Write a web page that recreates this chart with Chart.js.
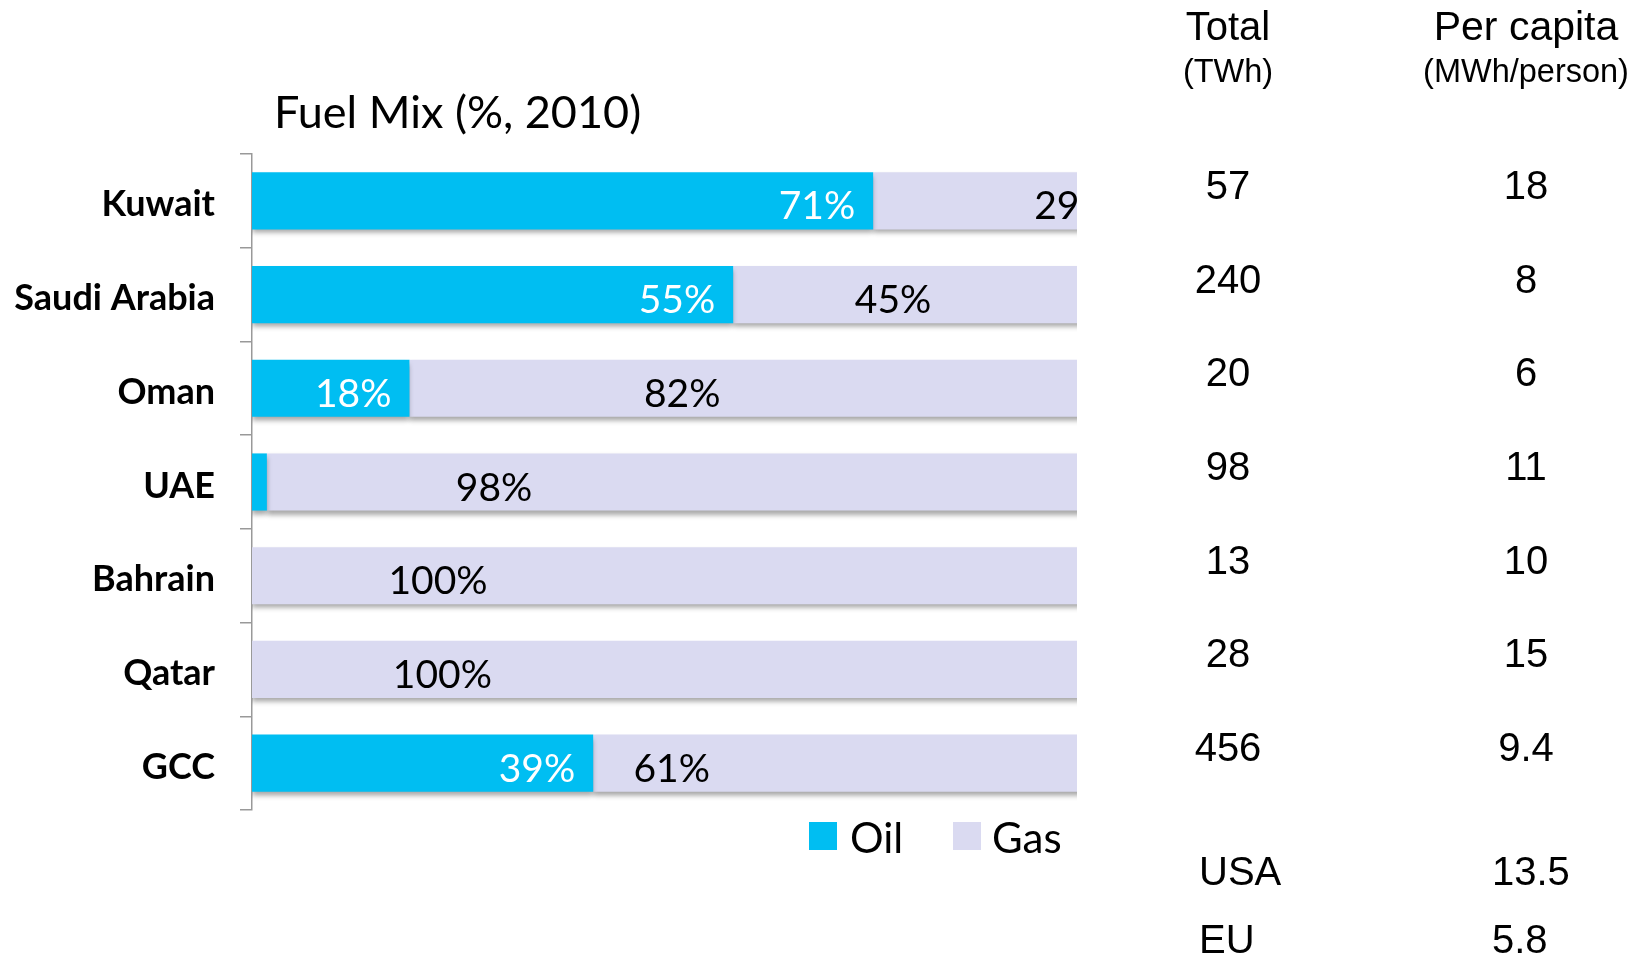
<!DOCTYPE html>
<html><head><meta charset="utf-8">
<script src="https://cdn.jsdelivr.net/npm/chart.js@4.4.1/dist/chart.umd.min.js"></script>
<style>html,body{margin:0;padding:0;background:#fff;} #wrap{width:1636px;height:960px;position:relative;} canvas{display:block;}</style>
</head><body><div id="wrap"><canvas id="c" width="1636" height="960"></canvas></div>
<script>
// ---- data ----
const countries = ['Kuwait', 'Saudi Arabia', 'Oman', 'UAE', 'Bahrain', 'Qatar', 'GCC'];
const oilShare = [71, 55, 18, 1.7, 0, 0, 39];
const gasShare = [29, 45, 82, 98, 100, 100, 61];
const oilLabels = ['71%', '55%', '18%', '', '', '', '39%'];
const gasLabels = ['29%', '45%', '82%', '98%', '100%', '100%', '61%'];
const totalTWh = ['57', '240', '20', '98', '13', '28', '456'];
const perCapita = ['18', '8', '6', '11', '10', '15', '9.4'];
const benchmarkNames = ['USA', 'EU'];
const benchmarkPerCapita = ['13.5', '5.8'];
const seriesNames = ['Oil', 'Gas'];
const chartTitle = 'Fuel Mix (%, 2010)';
const tableHeaders = [['Total', '(TWh)'], ['Per capita', '(MWh/person)']];
// value-axis end (bars overflow and are clipped, as in the original)
const axisMax = 94.3;
// label anchors (in % units on the value axis) for the gas labels, as placed in the original
const gasLabelAnchor = [89.4, 68.9, 44.8, 23.3, 15.6, 16.1, 43.6];

// ---- style ----
const OIL = 'rgb(0,190,242)';
const GAS = 'rgb(218,218,241)';
const CAL = 'Lato, "Open Sans", sans-serif';
const ARIAL = '"Liberation Sans", Arial, sans-serif';

const shadowPlugin = {
  id: 'barShadow',
  beforeDatasetsDraw(chart) {
    const ctx = chart.ctx;
    ctx.save();
    ctx.shadowColor = 'rgba(0,0,0,0.35)';
    ctx.shadowBlur = 5;
    ctx.shadowOffsetX = 0;
    ctx.shadowOffsetY = 4;
  },
  afterDatasetsDraw(chart) { chart.ctx.restore(); }
};

const annotPlugin = {
  id: 'annot',
  afterDraw(chart) {
    const ctx = chart.ctx;
    const xs = chart.scales.x, ys = chart.scales.y, ca = chart.chartArea;
    ctx.save();
    // title
    ctx.fillStyle = '#000';
    ctx.font = '45px ' + CAL;
    ctx.textAlign = 'left';
    ctx.textBaseline = 'middle';
    ctx.fillText(chartTitle, 274, 113);

    // oil labels
    ctx.font = '39px ' + CAL;
    countries.forEach((c, i) => {
      const y = ys.getPixelForValue(i) + 6;
      if (oilLabels[i]) {
        ctx.fillStyle = '#fff';
        ctx.textAlign = 'right';
        ctx.fillText(oilLabels[i], xs.getPixelForValue(oilShare[i]) - 18, y);
      }
    });
    // gas labels (clipped at chart area)
    ctx.save();
    ctx.beginPath();
    ctx.rect(ca.left, ca.top, ca.right - ca.left, ca.bottom - ca.top);
    ctx.clip();
    countries.forEach((c, i) => {
      const y = ys.getPixelForValue(i) + 6;
      if (gasLabels[i]) {
        ctx.fillStyle = '#000';
        ctx.textAlign = 'left';
        ctx.fillText(gasLabels[i], xs.getPixelForValue(gasLabelAnchor[i]), y);
      }
    });
    ctx.restore();

    // legend
    const ds = chart.data.datasets;
    const legendItems = [{x: 809, tx: 850}, {x: 953, tx: 992}];
    ctx.font = '42px ' + CAL;
    ctx.textAlign = 'left';
    ds.forEach((d, k) => {
      ctx.fillStyle = d.backgroundColor;
      ctx.fillRect(legendItems[k].x, 822, 28, 28);
      ctx.fillStyle = '#000';
      ctx.fillText(d.label, legendItems[k].tx, 839);
    });

    // right table
    const colX = [1228, 1526];
    ctx.textAlign = 'center';
    ctx.fillStyle = '#000';
    tableHeaders.forEach((h, k) => {
      ctx.font = (k ? '41px ' : '40px ') + ARIAL;
      ctx.fillText(h[0], colX[k], 29);
      ctx.font = '32.5px ' + ARIAL;
      ctx.fillText(h[1], colX[k], 73);
    });
    ctx.font = '40px ' + ARIAL;
    countries.forEach((c, i) => {
      const y = ys.getPixelForValue(i) - 13;
      ctx.fillText(totalTWh[i], colX[0], y);
      ctx.fillText(perCapita[i], colX[1], y);
    });
    const benchY = [874, 942];
    ctx.textAlign = 'left';
    benchmarkNames.forEach((n, k) => {
      ctx.fillText(n, 1199, benchY[k]);
      ctx.fillText(benchmarkPerCapita[k], 1492, benchY[k]);
    });
    ctx.restore();
  }
};

function build() {
  return new Chart(document.getElementById('c'), {
    type: 'bar',
    data: {
      labels: countries,
      datasets: [
        { label: seriesNames[0], data: oilShare, backgroundColor: OIL, borderWidth: 0 },
        { label: seriesNames[1], data: gasShare, backgroundColor: GAS, borderWidth: 0 }
      ]
    },
    options: {
      indexAxis: 'y',
      responsive: false,
      animation: false,
      devicePixelRatio: 1,
      categoryPercentage: 0.61,
      barPercentage: 1,
      layout: { padding: { left: 0, top: 154, right: 559, bottom: 150 } },
      plugins: { legend: { display: false }, tooltip: { enabled: false }, title: { display: false } },
      scales: {
        x: { stacked: true, min: 0, max: axisMax, display: false },
        y: {
          stacked: true,
          afterFit(scale) { scale.width = 252; },
          grid: { display: true, drawOnChartArea: false, drawTicks: true, tickLength: 12, color: '#999', offset: true, lineWidth: 1.5 },
          border: { display: true, color: '#999', width: 1.5 },
          ticks: { color: '#000', padding: 25, labelOffset: 4, font: { family: CAL, weight: 'bold', size: 36 } }
        }
      }
    },
    plugins: [shadowPlugin, annotPlugin]
  });
}
const chart = build();
if (document.fonts && document.fonts.ready) document.fonts.ready.then(() => chart.update());
</script></body></html>
